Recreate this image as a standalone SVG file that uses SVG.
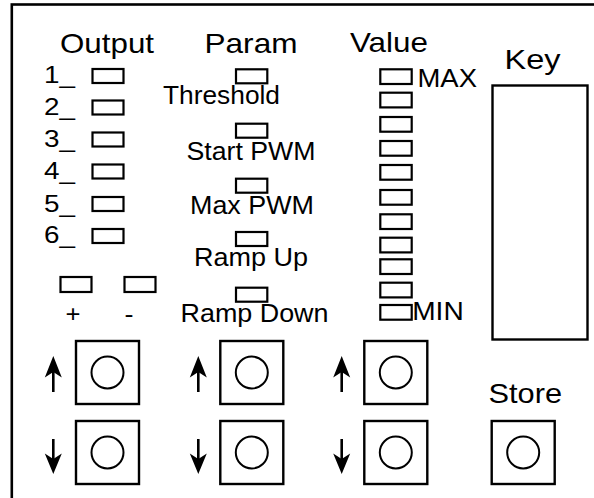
<svg xmlns="http://www.w3.org/2000/svg" width="594" height="498" viewBox="0 0 594 498" font-family="'Liberation Sans', Arial, sans-serif">
<style>
.led{fill:none;stroke:#000;stroke-width:2.2}
.sq{fill:none;stroke:#000;stroke-width:2.4}
.cir{fill:none;stroke:#000;stroke-width:2}
.sh{stroke:#000;stroke-width:2.6;fill:none}
.hd{fill:#000}
</style>
<defs>
<g id="up"><path class="sh" d="M0 392V368"/><path class="hd" d="M0 356L-8.5 377.5L0 372L8.5 377.5Z"/></g>
<g id="dn"><path class="sh" d="M0 439V463"/><path class="hd" d="M0 474L-8.5 453.5L0 459L8.5 453.5Z"/></g>
</defs>
<rect x="11.8" y="4.5" width="620" height="620" fill="none" stroke="#000" stroke-width="2.6"/>
<g id="headers" font-size="28.5">
<text x="60" y="53" textLength="94" lengthAdjust="spacingAndGlyphs">Output</text>
<text x="204.5" y="53" textLength="93" lengthAdjust="spacingAndGlyphs">Param</text>
<text x="350" y="52" textLength="78" lengthAdjust="spacingAndGlyphs">Value</text>
</g>
<g id="outputs">
<g font-size="23">
<text x="44" y="83.3" textLength="31" lengthAdjust="spacingAndGlyphs">1_</text>
<text x="44" y="115.3" textLength="31" lengthAdjust="spacingAndGlyphs">2_</text>
<text x="44" y="147.3" textLength="31" lengthAdjust="spacingAndGlyphs">3_</text>
<text x="44" y="179.3" textLength="31" lengthAdjust="spacingAndGlyphs">4_</text>
<text x="44" y="211.5" textLength="31" lengthAdjust="spacingAndGlyphs">5_</text>
<text x="44" y="243.3" textLength="31" lengthAdjust="spacingAndGlyphs">6_</text>
</g>
<rect class="led" x="92.5" y="69" width="31" height="14"/>
<rect class="led" x="92.5" y="100.5" width="31" height="14"/>
<rect class="led" x="92.5" y="132.5" width="31" height="14"/>
<rect class="led" x="92.5" y="164.5" width="31" height="14"/>
<rect class="led" x="92.5" y="197" width="31" height="14"/>
<rect class="led" x="92.5" y="229" width="31" height="14"/>
</g>
<g id="plusminus">
<rect class="led" x="60.5" y="277" width="31" height="15"/>
<rect class="led" x="124.5" y="277" width="31" height="15"/>
<text x="73" y="321.5" font-size="24" text-anchor="middle" textLength="15" lengthAdjust="spacingAndGlyphs">+</text>
<text x="129" y="321.5" font-size="24" text-anchor="middle" textLength="9" lengthAdjust="spacingAndGlyphs">-</text>
</g>
<g id="params" font-size="25.5">
<text x="163" y="104" textLength="117" lengthAdjust="spacingAndGlyphs">Threshold</text>
<text x="186.5" y="159.5" textLength="129" lengthAdjust="spacingAndGlyphs">Start PWM</text>
<text x="190" y="214" textLength="124" lengthAdjust="spacingAndGlyphs">Max PWM</text>
<text x="194" y="266" textLength="114" lengthAdjust="spacingAndGlyphs">Ramp Up</text>
<text x="180.5" y="321.5" textLength="148" lengthAdjust="spacingAndGlyphs">Ramp Down</text>
<rect class="led" x="236" y="69.3" width="31.3" height="14"/>
<rect class="led" x="236" y="123.7" width="31.3" height="14"/>
<rect class="led" x="236" y="178.7" width="31.3" height="14"/>
<rect class="led" x="236" y="232" width="31.3" height="14"/>
<rect class="led" x="236" y="287.7" width="31.3" height="14"/>
</g>
<g id="values">
<rect class="led" x="380.3" y="69.3" width="31.4" height="14.7"/>
<rect class="led" x="380.3" y="92.7" width="31.4" height="14.7"/>
<rect class="led" x="380.3" y="117" width="31.4" height="14.7"/>
<rect class="led" x="380.3" y="141" width="31.4" height="14.7"/>
<rect class="led" x="380.3" y="165" width="31.4" height="14.7"/>
<rect class="led" x="380.3" y="190" width="31.4" height="14.7"/>
<rect class="led" x="380.3" y="214.3" width="31.4" height="14.7"/>
<rect class="led" x="380.3" y="237.7" width="31.4" height="14.7"/>
<rect class="led" x="380.3" y="259.3" width="31.4" height="14.7"/>
<rect class="led" x="380.3" y="282.7" width="31.4" height="14.7"/>
<rect class="led" x="380.3" y="305" width="31.4" height="14.7"/>
<text x="417.5" y="86.5" font-size="25.5" textLength="59.5" lengthAdjust="spacingAndGlyphs">MAX</text>
<text x="412.2" y="320" font-size="25.5" textLength="51.5" lengthAdjust="spacingAndGlyphs">MIN</text>
</g>
<g id="key">
<text x="504.5" y="69" font-size="28.5" textLength="56" lengthAdjust="spacingAndGlyphs">Key</text>
<rect x="492.5" y="85.5" width="95" height="254" fill="none" stroke="#000" stroke-width="2.4"/>
</g>
<g id="btn-output-up"><use href="#up" x="53.3"/><rect class="sq" x="76" y="341" width="63" height="63"/><circle class="cir" cx="107.5" cy="372.5" r="16"/></g>
<g id="btn-output-down"><use href="#dn" x="53.3"/><rect class="sq" x="76" y="421" width="63" height="63"/><circle class="cir" cx="107.5" cy="452.5" r="16"/></g>
<g id="btn-param-up"><use href="#up" x="198.3"/><rect class="sq" x="220.3" y="341" width="63" height="63"/><circle class="cir" cx="251.8" cy="372.5" r="16"/></g>
<g id="btn-param-down"><use href="#dn" x="198.3"/><rect class="sq" x="220.3" y="421" width="63" height="63"/><circle class="cir" cx="251.8" cy="452.5" r="16"/></g>
<g id="btn-value-up"><use href="#up" x="341.7"/><rect class="sq" x="364.3" y="341" width="63" height="63"/><circle class="cir" cx="395.8" cy="372.5" r="16"/></g>
<g id="btn-value-down"><use href="#dn" x="341.7"/><rect class="sq" x="364.3" y="421" width="63" height="63"/><circle class="cir" cx="395.8" cy="452.5" r="16"/></g>
<g id="btn-store">
<text x="488.5" y="403" font-size="28.5" textLength="73.5" lengthAdjust="spacingAndGlyphs">Store</text>
<rect class="sq" x="491.7" y="421" width="63" height="63"/><circle class="cir" cx="523.2" cy="452.5" r="16"/>
</g>
<g id="connectors"></g>
</svg>
